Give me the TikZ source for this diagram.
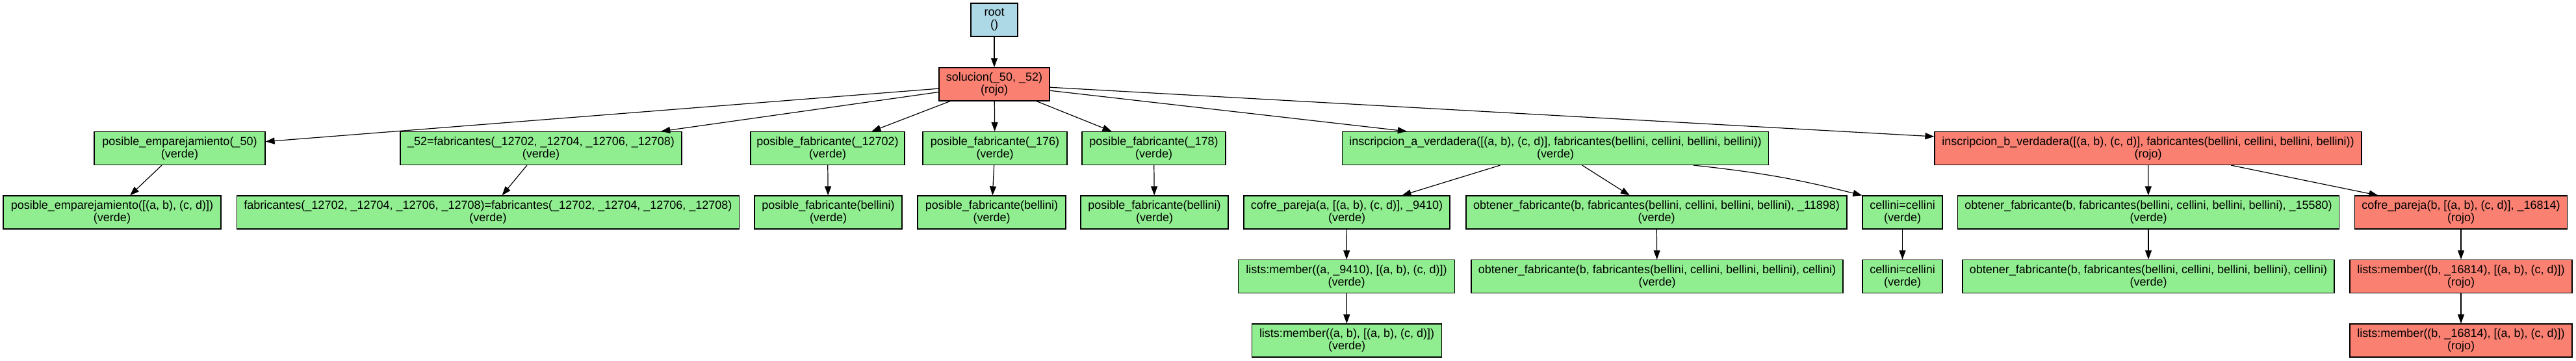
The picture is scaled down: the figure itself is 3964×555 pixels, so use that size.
\documentclass[tikz,border=0pt]{standalone}
\usepackage{fontspec}
\setmainfont{Liberation Sans}
\usetikzlibrary{arrows.meta}
\definecolor{vgreen}{HTML}{90EE90}
\definecolor{vred}{HTML}{FA8072}
\definecolor{vblue}{HTML}{ADD8E6}
\tikzset{
  box/.style={draw=black, line width=0.6pt, rectangle, inner sep=0pt,
    minimum height=25.5pt, align=center, font=\fontsize{9}{9.5}\selectfont},
  gr/.style={box, fill=vgreen},
  rd/.style={box, fill=vred},
  bl/.style={box, fill=vblue},
  wd/.style={minimum width=#1*0.5pt},
  arr/.style={-{Triangle[length=7pt,width=5pt]}, line width=0.6pt}
}
\begin{document}
\begin{tikzpicture}[x=0.5pt,y=-0.5pt]
\useasboundingbox (0,0) rectangle (3964,555);
% level 0/1
\node[bl, wd=72] (root) at (1530,30.5) {root\\()};
\node[rd, wd=170] (sol) at (1530,129.5) {solucion(\_50, \_52)\\(rojo)};
% level 2
\node[gr, wd=263] (pe50) at (276.5,228) {posible\_emparejamiento(\_50)\\(verde)};
\node[gr, wd=433] (f52) at (832.5,228) {\_52=fabricantes(\_12702, \_12704, \_12706, \_12708)\\(verde)};
\node[gr, wd=237] (pfa) at (1273.5,228) {posible\_fabricante(\_12702)\\(verde)};
\node[gr, wd=222] (pfb) at (1531,228) {posible\_fabricante(\_176)\\(verde)};
\node[gr, wd=221] (pfc) at (1775.5,228) {posible\_fabricante(\_178)\\(verde)};
\node[gr, wd=656] (insA) at (2393.5,228) {inscripcion\_a\_verdadera([(a, b), (c, d)], fabricantes(bellini, cellini, bellini, bellini))\\(verde)};
\node[rd, wd=657] (insB) at (3305.5,228) {inscripcion\_b\_verdadera([(a, b), (c, d)], fabricantes(bellini, cellini, bellini, bellini))\\(rojo)};
% level 3
\node[gr, wd=335] (peL) at (172.5,326.5) {posible\_emparejamiento([(a, b), (c, d)])\\(verde)};
\node[gr, wd=773] (fabeq) at (751,326.5) {fabricantes(\_12702, \_12704, \_12706, \_12708)=fabricantes(\_12702, \_12704, \_12706, \_12708)\\(verde)};
\node[gr, wd=227] (pfba) at (1274.5,326.5) {posible\_fabricante(bellini)\\(verde)};
\node[gr, wd=228] (pfbb) at (1526,326.5) {posible\_fabricante(bellini)\\(verde)};
\node[gr, wd=227] (pfbc) at (1776.5,326.5) {posible\_fabricante(bellini)\\(verde)};
\node[gr, wd=317] (cofA) at (2072.5,326.5) {cofre\_pareja(a, [(a, b), (c, d)], \_9410)\\(verde)};
\node[gr, wd=586] (obtA) at (2549,326.5) {obtener\_fabricante(b, fabricantes(bellini, cellini, bellini, bellini), \_11898)\\(verde)};
\node[gr, wd=123] (celA) at (2927.5,326.5) {cellini=cellini\\(verde)};
\node[gr, wd=587] (obtB) at (3306,326.5) {obtener\_fabricante(b, fabricantes(bellini, cellini, bellini, bellini), \_15580)\\(verde)};
\node[rd, wd=327] (cofB) at (3787,326.5) {cofre\_pareja(b, [(a, b), (c, d)], \_16814)\\(rojo)};
% level 4
\node[gr, wd=333] (lmA) at (2072,425) {lists:member((a, \_9410), [(a, b), (c, d)])\\(verde)};
\node[gr, wd=572] (obtcA) at (2550,425) {obtener\_fabricante(b, fabricantes(bellini, cellini, bellini, bellini), cellini)\\(verde)};
\node[gr, wd=123] (celB) at (2927.5,425) {cellini=cellini\\(verde)};
\node[gr, wd=572] (obtcB) at (3306,425) {obtener\_fabricante(b, fabricantes(bellini, cellini, bellini, bellini), cellini)\\(verde)};
\node[rd, wd=342] (lmB) at (3787,425) {lists:member((b, \_16814), [(a, b), (c, d)])\\(rojo)};
% level 5
\node[gr, wd=292] (lmAB) at (2072.5,523.5) {lists:member((a, b), [(a, b), (c, d)])\\(verde)};
\node[rd, wd=342] (lmB2) at (3787,523.5) {lists:member((b, \_16814), [(a, b), (c, d)])\\(rojo)};
% edges
\draw[arr] (root) -- (sol);
\draw[arr] (sol) -- (pe50);
\draw[arr] (sol) -- (f52);
\draw[arr] (sol) -- (pfa);
\draw[arr] (sol) -- (pfb);
\draw[arr] (sol) -- (pfc);
\draw[arr] (sol) -- (insA);
\draw[arr] (sol) -- (insB);
\draw[arr] (pe50) -- (peL);
\draw[arr] (f52) -- (fabeq);
\draw[arr] (pfa) -- (pfba);
\draw[arr] (pfb) -- (pfbb);
\draw[arr] (pfc) -- (pfbc);
\draw[arr] (insA) -- (cofA);
\draw[arr] (insA) -- (obtA);
\draw[arr] (insA.-7) to[bend left=4] (celA.north west);
\draw[arr] (insB) -- (obtB);
\draw[arr] (insB) -- (cofB);
\draw[arr] (cofA) -- (lmA);
\draw[arr] (lmA) -- (lmAB);
\draw[arr] (obtA) -- (obtcA);
\draw[arr] (celA) -- (celB);
\draw[arr] (obtB) -- (obtcB);
\draw[arr] (cofB) -- (lmB);
\draw[arr] (lmB) -- (lmB2);
\end{tikzpicture}
\end{document}
